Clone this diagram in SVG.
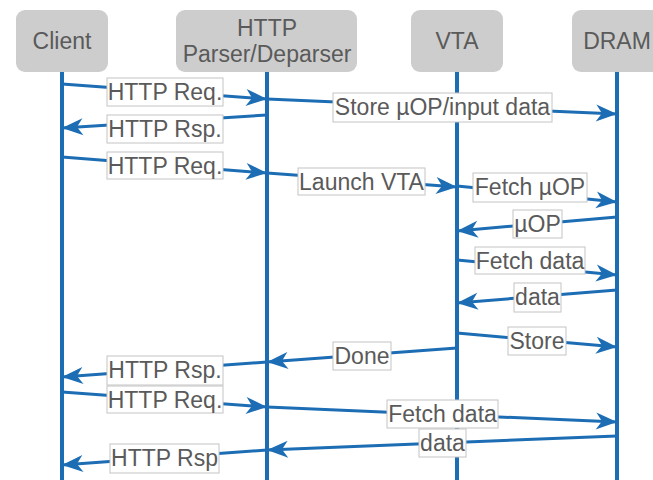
<svg xmlns="http://www.w3.org/2000/svg" width="653" height="480" viewBox="0 0 653 480">
  <style>
    .box { fill: #cdcdcd; }
    .ntxt { font-family: "Liberation Sans", Arial, sans-serif; font-size: 23px; fill: #5a5a5a; text-anchor: middle; }
    .life { stroke: #1c6db4; stroke-width: 4; fill: none; }
    .msg { stroke: #1c6db4; stroke-width: 3; fill: none; marker-end: url(#arr); }
    .lbl { fill: #ffffff; stroke: #c4c4c4; stroke-width: 1; }
    .ltxt { font-family: "Liberation Sans", Arial, sans-serif; font-size: 23px; fill: #5a5a5a; text-anchor: middle; }
  </style>
  <defs>
    <marker id="arr" markerUnits="userSpaceOnUse" markerWidth="24" markerHeight="20" viewBox="-22 -10 24 20" refX="0" refY="0" orient="auto">
      <path d="M0,0 L-21,-8.5 L-15,0 L-21,8.5 Z" fill="#1c6db4"/>
    </marker>
  </defs>
  <rect width="653" height="480" fill="#ffffff"/>

  <g id="client">
    <rect class="box" x="16" y="10" width="92" height="62" rx="9"/>
    <text class="ntxt" x="62" y="49">Client</text>
    <line class="life" x1="62" y1="72" x2="62" y2="480"/>
  </g>
  <g id="http">
    <rect class="box" x="176" y="10" width="181" height="62" rx="9"/>
    <text class="ntxt" x="267" y="36">HTTP</text>
    <text class="ntxt" x="267" y="62">Parser/Deparser</text>
    <line class="life" x1="267" y1="72" x2="267" y2="480"/>
  </g>
  <g id="vta">
    <rect class="box" x="411" y="10" width="92" height="62" rx="9"/>
    <text class="ntxt" x="457" y="49">VTA</text>
    <line class="life" x1="457" y1="72" x2="457" y2="480"/>
  </g>
  <g id="dram">
    <rect class="box" x="572" y="10" width="92" height="62" rx="9"/>
    <text class="ntxt" x="617" y="49">DRAM</text>
    <line class="life" x1="617" y1="72" x2="617" y2="480"/>
  </g>

  <g id="connectors">
    <line class="msg" x1="62" y1="84" x2="267" y2="99"/>
    <rect class="lbl" x="107" y="78" width="116" height="28"/>
    <text class="ltxt" x="165" y="100">HTTP Req.</text>

    <line class="msg" x1="267" y1="99" x2="617" y2="114"/>
    <rect class="lbl" x="333" y="93" width="219" height="29"/>
    <text class="ltxt" x="442.5" y="115">Store µOP/input data</text>

    <line class="msg" x1="267" y1="115" x2="62" y2="128"/>
    <rect class="lbl" x="107" y="115" width="116" height="28"/>
    <text class="ltxt" x="165" y="137">HTTP Rsp.</text>

    <line class="msg" x1="62" y1="157" x2="267" y2="173"/>
    <rect class="lbl" x="107" y="152" width="116" height="27"/>
    <text class="ltxt" x="165" y="174">HTTP Req.</text>

    <line class="msg" x1="267" y1="173" x2="457" y2="187"/>
    <rect class="lbl" x="298" y="168" width="127" height="27"/>
    <text class="ltxt" x="361.5" y="190">Launch VTA</text>

    <line class="msg" x1="457" y1="186" x2="617" y2="202"/>
    <rect class="lbl" x="473" y="173" width="114" height="29"/>
    <text class="ltxt" x="530" y="195">Fetch µOP</text>

    <line class="msg" x1="617" y1="217" x2="457" y2="231"/>
    <rect class="lbl" x="513" y="210" width="49" height="28"/>
    <text class="ltxt" x="537.5" y="232">µOP</text>

    <line class="msg" x1="457" y1="260" x2="617" y2="275"/>
    <rect class="lbl" x="475" y="247" width="110" height="27"/>
    <text class="ltxt" x="530" y="269">Fetch data</text>

    <line class="msg" x1="617" y1="290" x2="457" y2="303"/>
    <rect class="lbl" x="514" y="283" width="47" height="29"/>
    <text class="ltxt" x="537.5" y="305">data</text>

    <line class="msg" x1="457" y1="333" x2="617" y2="347"/>
    <rect class="lbl" x="508" y="327" width="58" height="28"/>
    <text class="ltxt" x="537" y="349">Store</text>

    <line class="msg" x1="457" y1="348" x2="267" y2="362"/>
    <rect class="lbl" x="333" y="342" width="58" height="28"/>
    <text class="ltxt" x="362" y="364">Done</text>

    <line class="msg" x1="267" y1="362" x2="62" y2="377"/>
    <rect class="lbl" x="107" y="356" width="116" height="29"/>
    <text class="ltxt" x="165" y="378">HTTP Rsp.</text>

    <line class="msg" x1="62" y1="392" x2="267" y2="407"/>
    <rect class="lbl" x="107" y="386" width="116" height="27"/>
    <text class="ltxt" x="165" y="408">HTTP Req.</text>

    <line class="msg" x1="267" y1="407" x2="617" y2="422"/>
    <rect class="lbl" x="387" y="400" width="111" height="28"/>
    <text class="ltxt" x="442.5" y="422">Fetch data</text>

    <line class="msg" x1="617" y1="436" x2="267" y2="450"/>
    <rect class="lbl" x="419" y="429" width="47" height="28"/>
    <text class="ltxt" x="442.5" y="451">data</text>

    <line class="msg" x1="267" y1="450" x2="62" y2="465"/>
    <rect class="lbl" x="110" y="444" width="109" height="29"/>
    <text class="ltxt" x="164.5" y="466">HTTP Rsp</text>
  </g>
</svg>
